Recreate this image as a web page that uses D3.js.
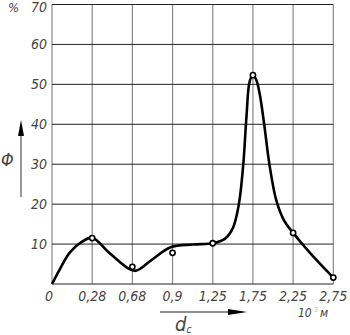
<!DOCTYPE html>
<html lang="en">
<head>
<meta charset="utf-8">
<script src="https://d3js.org/d3.v7.min.js"></script>
<title>Phi vs d</title>
<style>
  body { margin:0; background:#fff; }
  text { font-family:"Liberation Sans Narrow","DejaVu Sans Condensed",sans-serif; font-style:italic; fill:#444; }
  .hgrid { stroke:#222; stroke-width:1px; }
  .vgrid { stroke:#888; stroke-width:1.2px; }
  .curve { fill:none; stroke:#000; stroke-width:2.6px; }
  .pt { fill:#fff; stroke:#000; stroke-width:1.6px; }
</style>
</head>
<body>
<script>
var width = 350, height = 335;

// x categories (10^-3 m) and y ticks (%)
var xLabels = ["0", "0,28", "0,68", "0,9", "1,25", "1,75", "2,25", "2,75"];
var yTicks = [10, 20, 30, 40, 50, 60, 70];

// measured points (index of category, %)
var ptIndex = [1, 2, 3, 4, 5, 6, 7];
var ptValue = [11.5, 4.3, 7.8, 10.2, 52.3, 12.8, 1.6];

// hand-drawn smoothing curve, knots in category-index units
var curveIdx = [0, 0.2, 0.45, 0.75, 1.0, 1.45, 2.05, 2.45, 2.95, 3.5, 4.0, 4.3, 4.5, 4.65, 4.76, 4.84, 4.92, 5.0, 5.08, 5.17, 5.28, 5.41, 5.58, 5.78, 6.0, 6.42, 7.0];
var curveVal = [0, 3.8, 8.0, 10.6, 11.6, 7.6, 3.3, 5.8, 9.2, 9.9, 10.2, 11.3, 14, 20, 30, 42, 50.8, 52.3, 51.2, 47.5, 40, 30, 21, 15.8, 12.8, 7.8, 1.6];

var x = d3.scaleLinear().domain([0, 7]).range([52, 333.3]);
var y = d3.scaleLinear().domain([0, 70]).range([284, 4.5]);

var svg = d3.select("body").append("svg")
  .attr("width", width).attr("height", height);

// grid
svg.selectAll(".vgrid").data(xLabels).enter().append("line")
  .attr("class", "vgrid")
  .attr("x1", function(d, i) { return x(i); }).attr("x2", function(d, i) { return x(i); })
  .attr("y1", y(70)).attr("y2", y(0));

svg.selectAll(".hgrid").data([0].concat(yTicks)).enter().append("line")
  .attr("class", "hgrid")
  .attr("x1", x(0)).attr("x2", x(7))
  .attr("y1", function(d) { return y(d); }).attr("y2", function(d) { return y(d); });

// y tick labels
svg.selectAll(".ylab").data(yTicks).enter().append("text")
  .attr("x", 47).attr("y", function(d) { return Math.max(y(d) + 5, 12); })
  .attr("text-anchor", "end").attr("font-size", 14)
  .text(function(d) { return d; });

// x tick labels
svg.selectAll(".xlab").data(xLabels).enter().append("text")
  .attr("x", function(d, i) { return i === 0 ? x(i) - 3 : x(i); })
  .attr("y", 301)
  .attr("text-anchor", "middle").attr("font-size", 14)
  .text(function(d) { return d; });

// curve
var knots = curveIdx.map(function(v, i) { return [v, curveVal[i]]; });
var line = d3.line()
  .x(function(d) { return x(d[0]); })
  .y(function(d) { return y(d[1]); })
  .curve(d3.curveCatmullRom.alpha(0.5));
svg.append("path").attr("class", "curve").attr("d", line(knots));

// points
svg.selectAll(".pt").data(ptIndex).enter().append("circle")
  .attr("class", "pt")
  .attr("cx", function(d) { return x(d); })
  .attr("cy", function(d, i) { return y(ptValue[i]); })
  .attr("r", 2.6);

// axis names and arrows
svg.append("text").attr("x", 8).attr("y", 12).attr("font-size", 13).text("%");
svg.append("text").attr("x", 1).attr("y", 166).attr("font-size", 18).text("Φ");

svg.append("line").attr("x1", 21).attr("x2", 21).attr("y1", 197).attr("y2", 130)
  .attr("stroke", "#555").attr("stroke-width", 1.2);
svg.append("path").attr("d", "M21,120 L18,136 L24,136 Z").attr("fill", "#000");

svg.append("line").attr("x1", 160).attr("x2", 236).attr("y1", 312).attr("y2", 312)
  .attr("stroke", "#222").attr("stroke-width", 1.2);
svg.append("path").attr("d", "M247,312 L228,309 L228,315 Z").attr("fill", "#000");

var dc = svg.append("text").attr("x", 175).attr("y", 331).attr("font-size", 20);
dc.append("tspan").text("d");
dc.append("tspan").attr("font-size", 10).attr("dy", 2).text("c");

var unit = svg.append("text").attr("x", 298).attr("y", 317).attr("font-size", 12);
unit.append("tspan").text("10");
unit.append("tspan").attr("font-size", 7).attr("dy", -5).attr("fill", "#bbb").text("-3");
unit.append("tspan").attr("dy", 5).attr("dx", 2).text("м");
</script>
</body>
</html>
